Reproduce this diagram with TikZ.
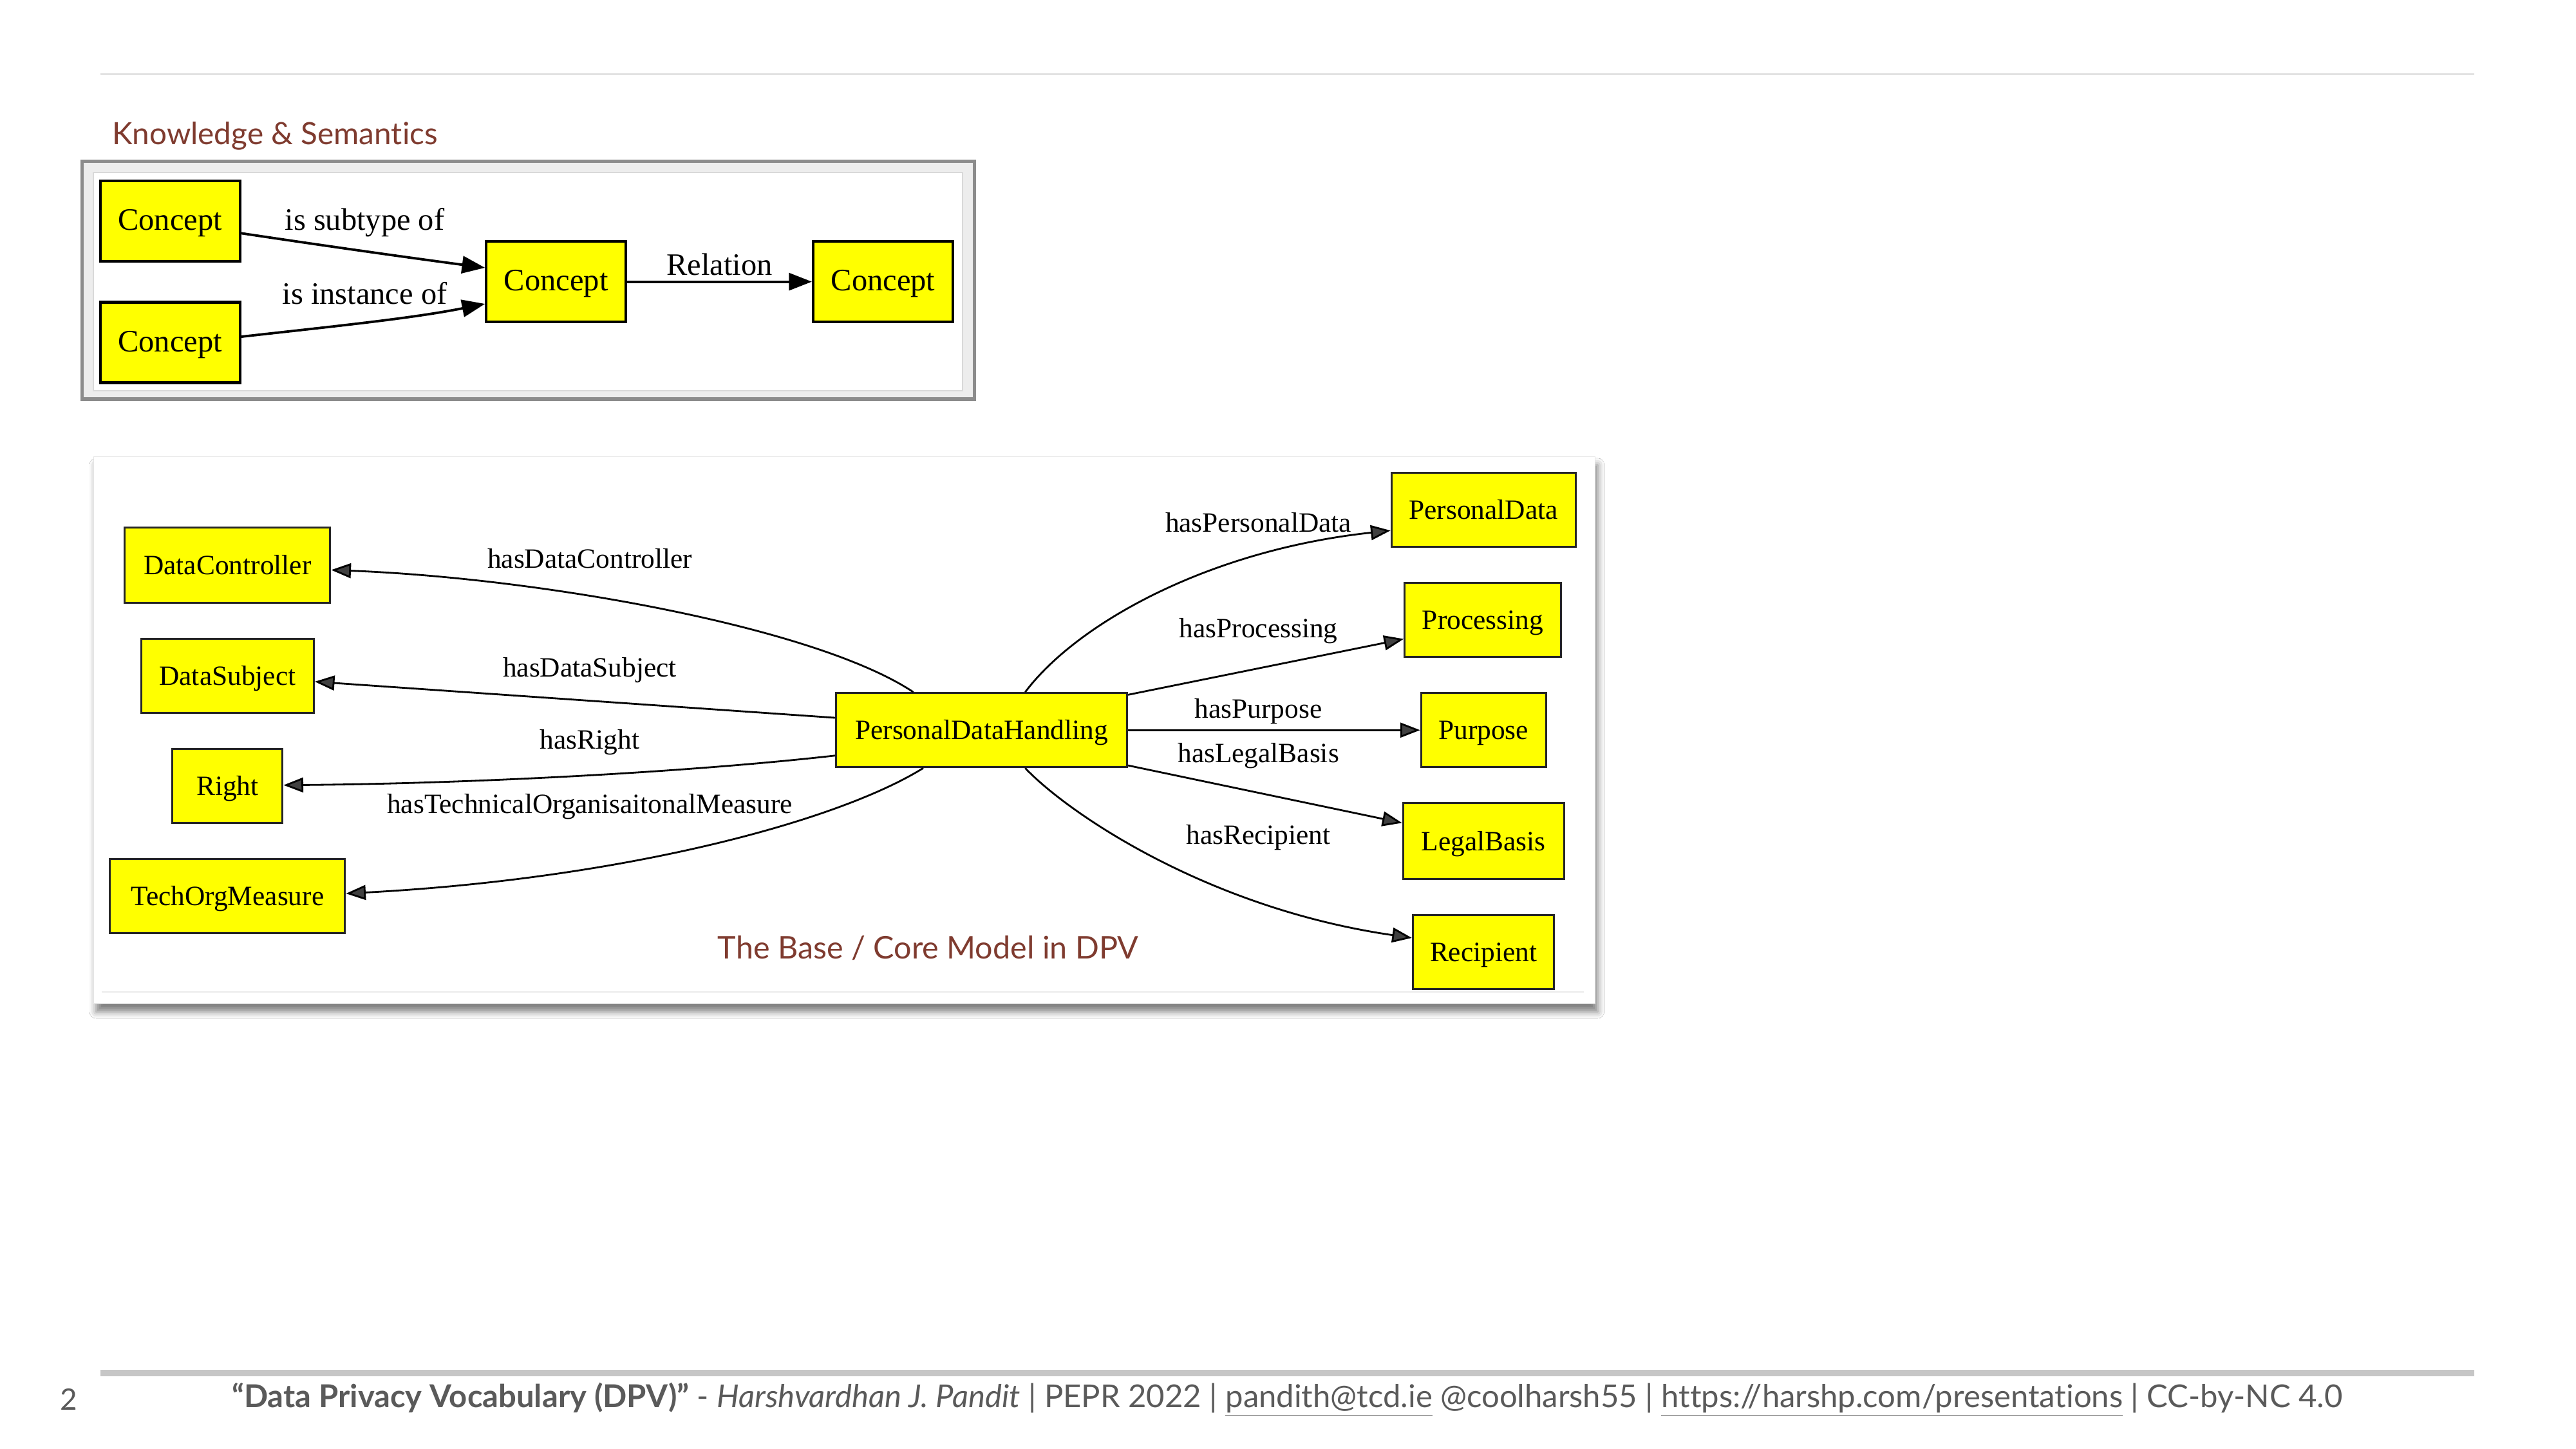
\documentclass[tikz,border=0pt]{standalone}
\usepackage{fontspec}
\setmainfont{Liberation Serif}
\newfontfamily\gillfont[Ligatures=NoCommon]{Lato}
\usetikzlibrary{arrows.meta,shadows.blur,calc}
\definecolor{kyellow}{HTML}{FFFF00}
\definecolor{titlebrown}{HTML}{7F3B2F}
\definecolor{footgray}{HTML}{5A5A5A}
\definecolor{bargray}{HTML}{C6C6C6}
\definecolor{linegray}{HTML}{D9D9D9}
\begin{document}
\begin{tikzpicture}[x=1pt,y=-1pt,
  kbox/.style={draw=black,line width=1.6pt,fill=kyellow,inner sep=0pt,minimum height=49pt,minimum width=85pt,text height=13pt,text depth=2pt,font=\fontsize{19}{22}\selectfont},
  dbox/.style={draw=black!85,line width=1.2pt,fill=kyellow,inner sep=0pt,minimum height=45pt,text height=12pt,text depth=0.5pt,font=\fontsize{17}{20}\selectfont},
  klabel/.style={inner sep=0pt,font=\fontsize{19}{22}\selectfont},
  dlabel/.style={inner sep=0pt,font=\fontsize{17}{20}\selectfont},
  karrow/.style={line width=1.5pt,-{Triangle[length=14pt,width=10.5pt]}},
  darrow/.style={line width=1.1pt,-{Triangle[length=12pt,width=9pt]}},
  titletext/.style={inner sep=0pt,text=titlebrown,font=\gillfont\fontsize{19}{22}\selectfont},
]
\fill[white] (0,0) rectangle (1568,882);
\useasboundingbox (0,0) rectangle (1568,882);

% header rule and footer bar
\draw[linegray,line width=1pt] (61,45) -- (1506,45);
\draw[bargray,line width=4pt] (61,836) -- (1506,836);

% ---------- Knowledge & Semantics ----------
\node[titletext,anchor=west,font=\gillfont\fontsize{18.7}{22}\selectfont] (ktitle) at (68,83) {Knowledge \& Semantics};
\fill[black!7] (50,98) rectangle (593,243);
\draw[black!45,line width=2pt] (50,98) rectangle (593,243);
\fill[white] (57,105) rectangle (586,238);
\draw[black!15,line width=0.8pt] (57,105) rectangle (586,238);

\node[kbox] (c1) at (103.5,134.5) {Concept};
\node[kbox] (c2) at (103.5,208.5) {Concept};
\node[kbox] (c3) at (338.5,171.5) {Concept};
\node[kbox] (c4) at (537.5,171.5) {Concept};

\draw[karrow] ($(c1.east)+(0,7.5)$) .. controls (200,150) and (250,157) .. ($(c3.west)+(0,-8.5)$);
\draw[karrow] ($(c2.east)+(0,-3.5)$) .. controls (200,199) and (250,194) .. ($(c3.west)+(0,13.5)$);
\draw[karrow] (c3.east) -- (c4.west);

\node[klabel] (l1) at (222,135.5) {is subtype of};
\node[klabel] (l2) at (222,178.5) {is instance of};
\node[klabel] (l3) at (438,161) {Relation};

% ---------- DPV core model ----------
\fill[white,blur shadow={shadow xshift=1.5pt,shadow yshift=-5pt,shadow blur radius=4pt,shadow opacity=50}] (57,278) rectangle (971,611);
\draw[black!10,line width=0.6pt] (57,278) rectangle (971,611);
\draw[black!8,line width=0.6pt] (62,604) -- (964,604);

\node[dbox,minimum width=125pt,minimum height=46pt] (dc) at (138.5,344) {DataController};
\node[dbox,minimum width=105pt] (ds) at (138.5,411.5) {DataSubject};
\node[dbox,minimum width=67pt] (rt) at (138.5,478.5) {Right};
\node[dbox,minimum width=143pt] (tom) at (138.5,545.5) {TechOrgMeasure};
\node[dbox,minimum width=177pt] (pdh) at (597.5,444.5) {PersonalDataHandling};
\node[dbox,minimum width=112pt] (pd) at (903,310.5) {PersonalData};
\node[dbox,minimum width=95pt] (pr) at (902.5,377.5) {Processing};
\node[dbox,minimum width=76pt] (pu) at (903,444.5) {Purpose};
\node[dbox,minimum width=98pt,minimum height=46pt] (lb) at (903,512) {LegalBasis};
\node[dbox,minimum width=86pt] (re) at (903,579.5) {Recipient};

\draw[darrow] ($(pdh.north)+(-41.5,0)$) .. controls (497,382) and (330,352) .. ($(dc.east)+(0,3)$);
\draw[darrow] ($(pdh.west)+(0,-7.5)$) -- ($(ds.east)+(0,3.5)$);
\draw[darrow] ($(pdh.west)+(0,15.5)$) .. controls (420,470) and (290,477) .. ($(rt.east)+(0,-0.5)$);
\draw[darrow] ($(pdh.south)+(-35.5,0)$) .. controls (510,500) and (380,535) .. ($(tom.east)+(0,-1.5)$);
\draw[darrow] ($(pdh.north)+(26.5,0)$) .. controls (655,380) and (735,335) .. ($(pd.west)+(0,12.5)$);
\draw[darrow] ($(pdh.east)+(0,-21.5)$) -- ($(pr.west)+(0,11.5)$);
\draw[darrow] (pdh.east) -- (pu.west);
\draw[darrow] ($(pdh.east)+(0,21.5)$) -- ($(lb.west)+(0,-11)$);
\draw[darrow] ($(pdh.south)+(26.5,0)$) .. controls (650,495) and (735,553) .. ($(re.west)+(0,-8.5)$);

\node[dlabel] (e1) at (359,340) {hasDataController};
\node[dlabel] (e2) at (359,408) {hasDataSubject};
\node[dlabel] (e3) at (359,452) {hasRight};
\node[dlabel] (e4) at (359,491) {hasTechnicalOrganisaitonalMeasure};
\node[dlabel] (e5) at (766,318) {hasPersonalData};
\node[dlabel] (e6) at (766,384) {hasProcessing};
\node[dlabel] (e7) at (766,433) {hasPurpose};
\node[dlabel] (e8) at (766,460) {hasLegalBasis};
\node[dlabel] (e9) at (766,510) {hasRecipient};

\node[titletext] (dtitle) at (565,577) {The Base / Core Model in DPV};

% ---------- footer ----------
\node[inner sep=0pt,text=footgray,font=\gillfont\fontsize{18}{22}\selectfont] (pnum) at (42,852) {2};
\node[inner sep=0pt,anchor=west,text=footgray,font=\gillfont\fontsize{19.2}{22}\selectfont] (foot) at (141,852)
  {\textbf{“Data Privacy Vocabulary (DPV)”} - \textit{Harshvardhan J. Pandit} | PEPR 2022 | \underline{pandith@tcd.ie} @coolharsh55 | \underline{https://harshp.com/presentations} | CC-by-NC 4.0};
\end{tikzpicture}
\end{document}
